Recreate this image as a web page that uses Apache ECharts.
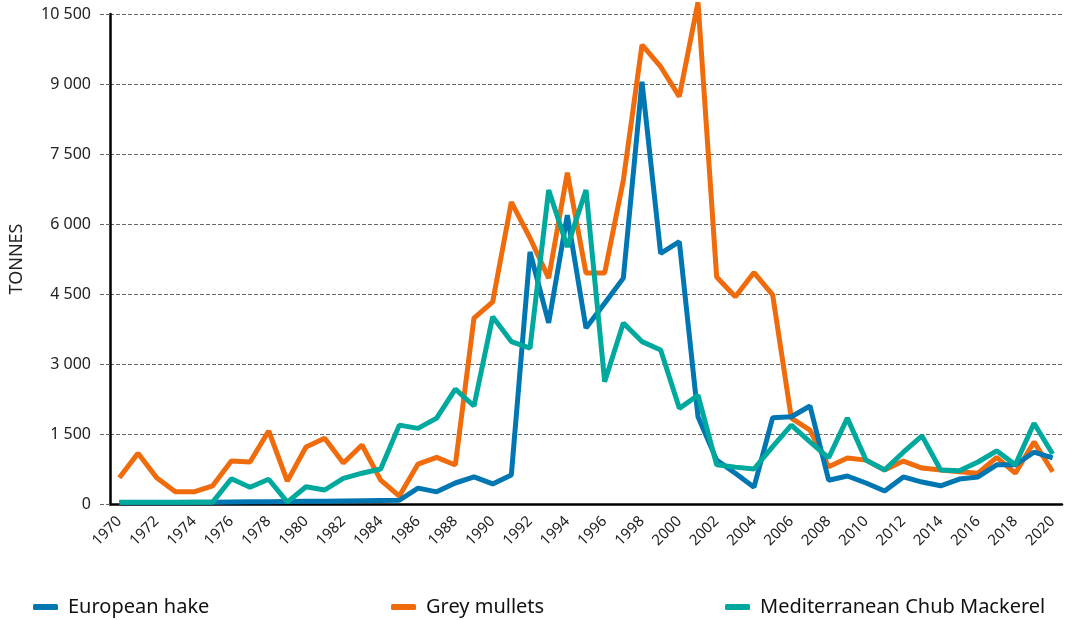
<!DOCTYPE html>
<html>
<head>
<meta charset="utf-8">
<script src="https://cdn.jsdelivr.net/npm/echarts@6/dist/echarts.min.js"></script>
<style>
  html, body { margin: 0; padding: 0; background: #fff; }
  #chart { width: 1065px; height: 620px; }
</style>
</head>
<body>
<div id="chart"></div>
<script>
// years 1970 - 2020
const years = []
for (let y = 1970; y <= 2020; y++) years.push(String(y))

const hake = [
  30, 30, 30, 30, 35, 40, 45, 50, 50, 55,
  60, 60, 65, 70, 75, 80, 340, 260, 450, 580,
  430, 620, 5400, 3880, 6190, 3770, 4300, 4840, 9050, 5370,
  5620, 1870, 940, 660, 360, 1850, 1870, 2100, 510, 600,
  450, 280, 580, 470, 390, 535, 580, 840, 840, 1110,
  990
]

const mullets = [
  560, 1090, 560, 260, 260, 390, 920, 900, 1565, 490,
  1220, 1410, 880, 1265, 510, 170, 855, 1000, 835, 3985,
  4330, 6470, 5700, 4840, 7100, 4950, 4950, 6940, 9840, 9370,
  8730, 10750, 4865, 4440, 4960, 4480, 1840, 1585, 800, 985,
  940, 730, 920, 770, 730, 690, 660, 1000, 660, 1330,
  690
]

const mackerel = [
  40, 40, 40, 40, 40, 40, 540, 360, 530, 40,
  370, 300, 550, 660, 750, 1690, 1620, 1840, 2460, 2100,
  4010, 3480, 3340, 6730, 5510, 6730, 2620, 3880, 3480, 3300,
  2050, 2330, 840, 790, 750, 1230, 1690, 1330, 990, 1840,
  940, 730, 1110, 1460, 730, 710, 900, 1140, 840, 1730,
  1070
]

const colors = {
  hake: '#0077b3',
  mullets: '#ef6b0c',
  mackerel: '#00a99d'
}

const fontFamily = '"Noto Sans", "Open Sans", sans-serif'

function spaced(v) {
  return String(v).replace(/\B(?=(\d{3})+(?!\d))/g, ' ')
}

function legendAt(left, name) {
  return {
    data: [name],
    left: left,
    top: 592,
    icon: 'roundRect',
    itemWidth: 25,
    itemHeight: 6,
    textStyle: { fontFamily: fontFamily, fontSize: 20, color: '#111', padding: [0, 0, 0, 5] }
  }
}

const myChart = echarts.init(document.getElementById('chart'))
myChart.setOption({
  animation: false,
  grid: { left: 107, right: 3, top: 14, bottom: 116, containLabel: false },
  legend: [
    legendAt(28, 'European hake'),
    legendAt(386, 'Grey mullets'),
    legendAt(720, 'Mediterranean Chub Mackerel')
  ],
  xAxis: {
    type: 'category',
    data: years,
    boundaryGap: true,
    axisLine: { lineStyle: { color: '#000', width: 2.5 } },
    axisTick: { interval: 0, length: 12, lineStyle: { color: '#000', width: 2 } },
    axisLabel: {
      interval: 1,
      rotate: 45,
      margin: 15,
      fontFamily: fontFamily,
      fontSize: 15,
      color: '#222'
    }
  },
  yAxis: {
    type: 'value',
    min: 0,
    max: 10500,
    interval: 1500,
    name: 'TONNES',
    nameLocation: 'middle',
    nameGap: 84,
    nameTextStyle: { fontFamily: fontFamily, fontSize: 18, color: '#222' },
    axisLine: { show: true, lineStyle: { color: '#000', width: 2.5 } },
    axisTick: { show: true, length: 10, lineStyle: { color: '#666', type: 'dashed' } },
    axisLabel: {
      margin: 19,
      fontFamily: fontFamily,
      fontSize: 16,
      color: '#222',
      formatter: spaced
    },
    splitLine: { show: true, lineStyle: { color: '#666', type: 'dashed', width: 1 } }
  },
  series: [
    {
      name: 'Grey mullets',
      type: 'line',
      data: mullets,
      symbol: 'none',
      clip: false,
      color: colors.mullets,
      lineStyle: { width: 5 }
    },
    {
      name: 'European hake',
      type: 'line',
      data: hake,
      symbol: 'none',
      clip: false,
      color: colors.hake,
      lineStyle: { width: 5 }
    },
    {
      name: 'Mediterranean Chub Mackerel',
      type: 'line',
      data: mackerel,
      symbol: 'none',
      clip: false,
      color: colors.mackerel,
      lineStyle: { width: 5 }
    }
  ]
})
</script>
</body>
</html>
